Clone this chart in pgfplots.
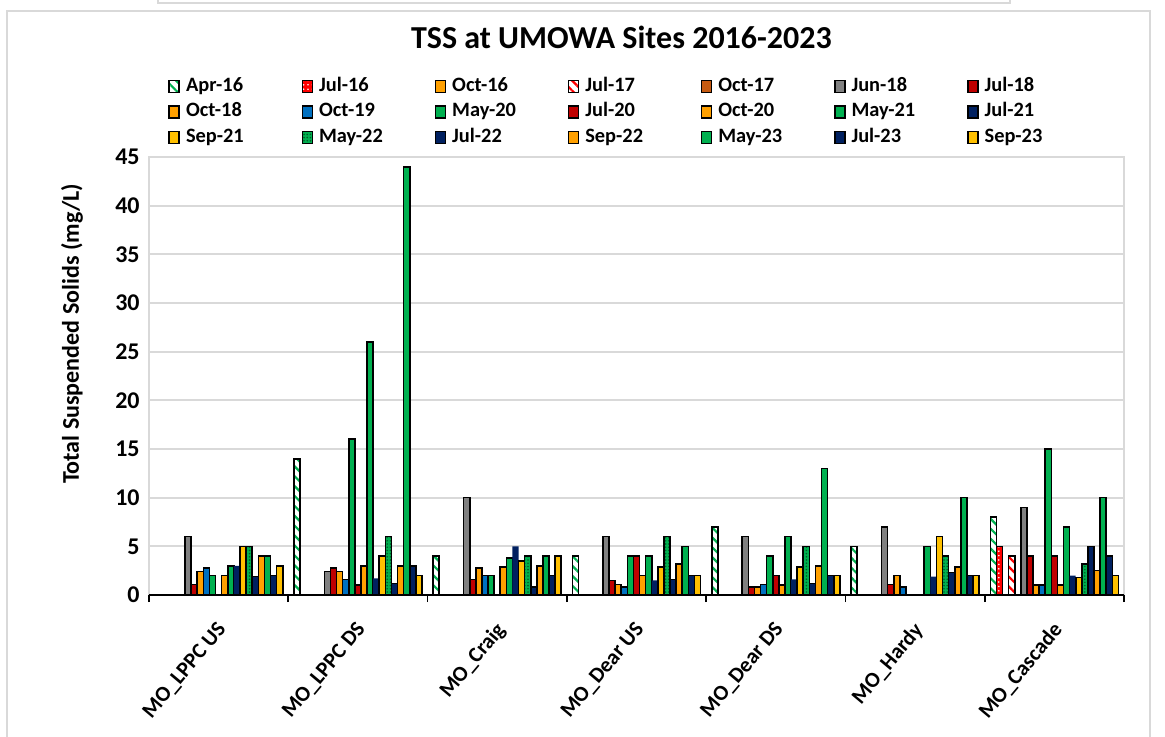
\documentclass[border=0pt]{standalone}
\usepackage{pgfplots}
\pgfplotsset{compat=1.18}
\usepackage{pgfplotstable}
\usepackage{fontspec}
\setmainfont{Carlito}
\usetikzlibrary{patterns,patterns.meta}

\definecolor{cgreen}{HTML}{00B050}
\definecolor{cdred}{HTML}{C00000}
\definecolor{cred}{HTML}{FF0000}
\definecolor{corange}{HTML}{FFA000}
\definecolor{cgold}{HTML}{FFC000}
\definecolor{cnavy}{HTML}{002060}
\definecolor{cblue}{HTML}{0070C0}
\definecolor{cgray}{HTML}{808080}
\definecolor{cbrown}{HTML}{C55A11}
\definecolor{cdkgreen}{HTML}{005C28}
\definecolor{frame}{HTML}{D9D9D9}

\newcommand\lgd[1]{\makebox[60.75pt][l]{\hspace{3pt}#1}}

% TSS (mg/L) per site; Oct-16 and Oct-17 have no samples
\pgfplotstableread{
x Apr16 Jul16 Jul17 Jun18 Jul18 Oct18 Oct19 May20 Jul20 Oct20 May21 Jul21 Sep21 May22 Jul22 Sep22 May23 Jul23 Sep23
0 nan  nan nan 6   1.1 2.4 2.8 2   nan 2   3   3   5   5   1.9 4   4   2   3
1 14   nan nan 2.4 2.8 2.4 1.6 16  1   3   26  1.7 4   6   1.2 3   44  3   2
2 4    nan nan 10  1.6 2.8 2   2   nan 2.9 3.8 5   3.5 4   0.8 3   4   2   4
3 4    nan nan 6   1.5 1.1 0.8 4   4   2   4   1.5 2.9 6   1.6 3.2 5   2   2
4 7    nan nan 6   0.8 0.8 1.1 4   2   1   6   1.6 2.9 5   1.2 3   13  2   2
5 5    nan nan 7   1.1 2   0.8 nan nan nan 5   1.9 6   4   2.3 2.9 10  2   2
6 8    5   4   9   4   1   1   15  4   1   7   2   1.8 3.2 5   2.5 10  4   2
}\tss

\begin{document}
\begin{tikzpicture}
\useasboundingbox (0,0) rectangle (582.5pt,368pt);
\draw[frame, line width=0.8pt] (3.5pt,-5pt) -- (3.5pt,362.5pt) -- (575pt,362.5pt) -- (575pt,-5pt);
\draw[frame, line width=0.8pt] (79pt,370pt) -- (79pt,366.5pt) -- (505pt,366.5pt) -- (505pt,370pt);
\node[font=\fontsize{16}{19}\selectfont\bfseries] at (310.75pt,349.5pt) {TSS at UMOWA Sites 2016-2023};
\begin{axis}[
    at={(74.5pt,70.5pt)}, anchor=south west,
    scale only axis, width=487.5pt, height=219pt,
    ybar=0pt, bar width=0.0438,
    xmin=-0.5, xmax=6.5, ymin=0, ymax=45,
    xtick={0,...,6},
    xticklabels={MO\_LPPC US, MO\_LPPC DS, MO\_Craig, MO\_Dear US, MO\_Dear DS, MO\_Hardy, MO\_Cascade},
    xtick pos=bottom, major x tick style={draw=none},
    extra x ticks={-0.5,0.5,...,6.5}, extra x tick labels={},
    extra x tick style={major tick length=3.5pt, tick align=outside, grid=none,
        major x tick style={draw=black, line width=0.8pt}},
    xticklabel style={font=\fontsize{10.8}{13}\selectfont\bfseries, rotate=50, anchor=north east, inner sep=0pt, xshift=-7.2pt, yshift=-4.2pt},
    ytick={0,5,...,45}, ytick style={draw=none},
    yticklabel style={font=\fontsize{12}{14}\selectfont\bfseries, inner sep=0pt, xshift=-4.5pt},
    /pgf/number format/assume math mode=true,
    ymajorgrids, grid style={draw=frame, line width=1pt},
    axis line style={draw=frame, line width=1pt},
    ylabel={Total Suspended Solids (mg/L)},
    ylabel style={at={(axis description cs:-0.079,0.596)}, anchor=center, font=\fontsize{12}{14}\selectfont\bfseries},
    legend columns=7, legend cell align=left,
    legend image code/.code={\draw[#1] (0pt,-3pt) rectangle (5pt,3pt);},
    legend style={at={(axis description cs:0.0195,1.1826)}, anchor=north west, draw=none,
        inner sep=0pt, font=\fontsize{10.2}{12}\selectfont\bfseries,
        /tikz/column sep=0pt, /tikz/row sep=3.75pt,
        nodes={inner sep=0pt, text height=7pt, text depth=2pt}},
    every axis plot/.append style={draw=black, line width=0.8pt},
]
\addplot[fill=white, postaction={pattern={Lines[angle=-45,distance=3.5pt,line width=1.1pt]}, pattern color=cgreen}, bar shift=-0.438] table[x=x,y=Apr16]{\tss};
\addlegendentry{\lgd{Apr-16}}
\addplot[fill=cred, postaction={pattern={Dots[distance=2.2pt,radius=0.45pt]}, pattern color=white}, bar shift=-0.3942] table[x=x,y=Jul16]{\tss};
\addlegendentry{\lgd{Jul-16}}
\addlegendimage{fill=corange, draw=black, line width=0.8pt}
\addlegendentry{\lgd{Oct-16}}
\addplot[fill=white, postaction={pattern={Lines[angle=-45,distance=3.5pt,line width=1.1pt]}, pattern color=cred}, bar shift=-0.3066] table[x=x,y=Jul17]{\tss};
\addlegendentry{\lgd{Jul-17}}
\addlegendimage{fill=cbrown, draw=none}
\addlegendentry{\lgd{Oct-17}}
\addplot[fill=cgray, bar shift=-0.219] table[x=x,y=Jun18]{\tss};
\addlegendentry{\lgd{Jun-18}}
\addplot[fill=cdred, bar shift=-0.1752] table[x=x,y=Jul18]{\tss};
\addlegendentry{\lgd{Jul-18}}
\addplot[fill=corange, bar shift=-0.1314] table[x=x,y=Oct18]{\tss};
\addlegendentry{\lgd{Oct-18}}
\addplot[fill=cblue, bar shift=-0.0876] table[x=x,y=Oct19]{\tss};
\addlegendentry{\lgd{Oct-19}}
\addplot[fill=cgreen, bar shift=-0.0438] table[x=x,y=May20]{\tss};
\addlegendentry{\lgd{May-20}}
\addplot[fill=cdred, bar shift=0] table[x=x,y=Jul20]{\tss};
\addlegendentry{\lgd{Jul-20}}
\addplot[fill=corange, bar shift=0.0438] table[x=x,y=Oct20]{\tss};
\addlegendentry{\lgd{Oct-20}}
\addplot[fill=cgreen, bar shift=0.0876] table[x=x,y=May21]{\tss};
\addlegendentry{\lgd{May-21}}
\addplot[fill=cnavy, draw=none, bar shift=0.1314] table[x=x,y=Jul21]{\tss};
\addlegendentry{\lgd{Jul-21}}
\addplot[fill=cgold, bar shift=0.1752] table[x=x,y=Sep21]{\tss};
\addlegendentry{\lgd{Sep-21}}
\addplot[fill=cgreen, postaction={pattern={Dots[distance=1.6pt,radius=0.45pt]}, pattern color=cdkgreen}, bar shift=0.219] table[x=x,y=May22]{\tss};
\addlegendentry{\lgd{May-22}}
\addplot[fill=cnavy, bar shift=0.2628] table[x=x,y=Jul22]{\tss};
\addlegendentry{\lgd{Jul-22}}
\addplot[fill=corange, bar shift=0.3066] table[x=x,y=Sep22]{\tss};
\addlegendentry{\lgd{Sep-22}}
\addplot[fill=cgreen, bar shift=0.3504] table[x=x,y=May23]{\tss};
\addlegendentry{\lgd{May-23}}
\addplot[fill=cnavy, bar shift=0.3942] table[x=x,y=Jul23]{\tss};
\addlegendentry{\lgd{Jul-23}}
\addplot[fill=cgold, bar shift=0.438] table[x=x,y=Sep23]{\tss};
\addlegendentry{\lgd{Sep-23}}
\draw[black, line width=1pt] (rel axis cs:0,0) -- (rel axis cs:1,0);
\end{axis}
\end{tikzpicture}
\end{document}
